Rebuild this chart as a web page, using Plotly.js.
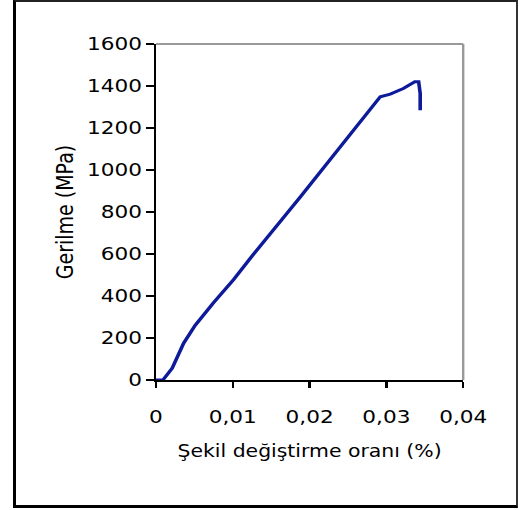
<!DOCTYPE html>
<html>
<head>
<meta charset="utf-8">
<script src="https://cdn.plot.ly/plotly-3.0.1.min.js"></script>
<style>
  html, body { margin: 0; padding: 0; background: #fff; width: 523px; height: 510px; overflow: hidden; }
  #frame { position: absolute; left: 13px; top: 0; width: 505px; height: 508px; box-sizing: border-box;
           border-left: 3px solid #000; border-top: 2px solid #222; border-right: 2px solid #333; border-bottom: 3px solid #000; }
  #chart { position: absolute; left: 0; top: 0; width: 436px; height: 510px; transform: scaleX(1.2); transform-origin: 0 0; }
</style>
</head>
<body>
<div id="chart"></div>
<div id="frame"></div>
<script>
// Strain (unit as shown on axis) and stress (MPa)
const strain = [0, 0.0009, 0.0021, 0.0036, 0.0051, 0.0075, 0.0101, 0.0125, 0.0188, 0.0240, 0.0266, 0.0292, 0.0305, 0.0322, 0.0337, 0.0342, 0.0344, 0.0344];
const stress = [0, 0, 56, 175, 260, 368, 478, 590, 872, 1108, 1228, 1349, 1361, 1388, 1420, 1420, 1365, 1285];

const xTickVals = [0, 0.01, 0.02, 0.03, 0.04];
const xTickText = ["0", "0,01", "0,02", "0,03", "0,04"];
const yTickVals = [0, 200, 400, 600, 800, 1000, 1200, 1400, 1600];
const yTickText = ["0", "200", "400", "600", "800", "1000", "1200", "1400", "1600"];

const xTitle = "Şekil değiştirme oranı (%)";
const yTitle = "Gerilme (MPa)";

const font = "DejaVu Sans, Verdana, sans-serif";

const trace = {
  x: strain, y: stress, type: "scatter", mode: "lines",
  line: { color: "#0d1a9a", width: 3 },
  hoverinfo: "none"
};

const layout = {
  width: 436, height: 510,
  margin: { l: 130, r: 50.2, t: 44, b: 130, pad: 0 },
  paper_bgcolor: "rgba(0,0,0,0)", plot_bgcolor: "#fff",
  showlegend: false,
  font: { family: font, color: "#000", size: 18 },
  xaxis: {
    range: [0, 0.04], tickvals: xTickVals, ticktext: xTickText,
    showgrid: false, zeroline: false, showline: true, linecolor: "#000", linewidth: 2,
    ticks: "outside", ticklen: 6, tickwidth: 2, tickcolor: "#000",
    ticklabelstandoff: 13,
    tickfont: { family: font, size: 18, color: "#000" },
    title: { text: xTitle, font: { family: font, size: 17, color: "#000" }, standoff: 20 },
    fixedrange: true
  },
  yaxis: {
    range: [0, 1600], tickvals: yTickVals, ticktext: yTickText,
    showgrid: false, zeroline: false, showline: true, linecolor: "#000", linewidth: 2,
    ticks: "outside", ticklen: 6, tickwidth: 2, tickcolor: "#000",
    ticklabelstandoff: 0,
    tickfont: { family: font, size: 18, color: "#000" },
    title: { text: yTitle, font: { family: font, size: 19, color: "#000" }, standoff: 6 },
    fixedrange: true
  },
  shapes: [
    { type: "line", xref: "paper", yref: "paper", x0: 0, x1: 1, y0: 1, y1: 1, line: { color: "#999", width: 2 } },
    { type: "line", xref: "paper", yref: "paper", x0: 1, x1: 1, y0: 0, y1: 1, line: { color: "#999", width: 2 } }
  ]
};

Plotly.newPlot("chart", [trace], layout, { staticPlot: true, displayModeBar: false });
</script>
</body>
</html>
